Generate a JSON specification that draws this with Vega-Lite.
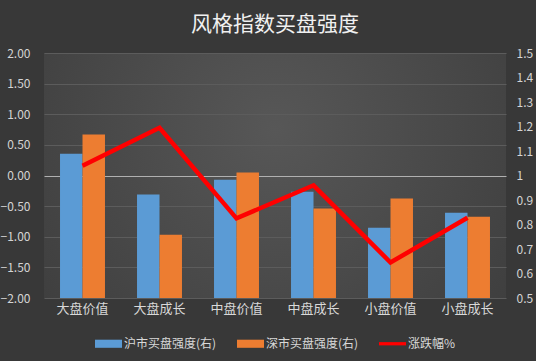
{
  "$schema": "https://vega.github.io/schema/vega-lite/v6.json",
  "width": 462,
  "height": 245,
  "autosize": {"type": "none"},
  "padding": {"left": 44, "top": 53, "right": 30, "bottom": 63},
  "background": "#383838",
  "title": {
    "text": "风格指数买盘强度",
    "font": "Noto Sans CJK SC",
    "fontSize": 21,
    "fontWeight": "normal",
    "color": "#f0f0f0",
    "anchor": "middle",
    "offset": 12
  },
  "datasets": {
    "bars": [
      {"cat": "大盘价值", "series": "沪市买盘强度(右)", "value": 1.089},
      {"cat": "大盘价值", "series": "深市买盘强度(右)", "value": 1.167},
      {"cat": "大盘成长", "series": "沪市买盘强度(右)", "value": 0.922},
      {"cat": "大盘成长", "series": "深市买盘强度(右)", "value": 0.758},
      {"cat": "中盘价值", "series": "沪市买盘强度(右)", "value": 0.983},
      {"cat": "中盘价值", "series": "深市买盘强度(右)", "value": 1.012},
      {"cat": "中盘成长", "series": "沪市买盘强度(右)", "value": 0.934},
      {"cat": "中盘成长", "series": "深市买盘强度(右)", "value": 0.865},
      {"cat": "小盘价值", "series": "沪市买盘强度(右)", "value": 0.787},
      {"cat": "小盘价值", "series": "深市买盘强度(右)", "value": 0.906},
      {"cat": "小盘成长", "series": "沪市买盘强度(右)", "value": 0.848},
      {"cat": "小盘成长", "series": "深市买盘强度(右)", "value": 0.832}
    ],
    "line": [
      {"cat": "大盘价值", "name": "涨跌幅%", "chg": 0.16},
      {"cat": "大盘成长", "name": "涨跌幅%", "chg": 0.78},
      {"cat": "中盘价值", "name": "涨跌幅%", "chg": -0.70},
      {"cat": "中盘成长", "name": "涨跌幅%", "chg": -0.16},
      {"cat": "小盘价值", "name": "涨跌幅%", "chg": -1.42},
      {"cat": "小盘成长", "name": "涨跌幅%", "chg": -0.69}
    ]
  },
  "config": {
    "view": {
      "stroke": null,
      "fill": {
        "gradient": "radial",
        "x1": 0.5, "y1": 0.4, "r1": 0,
        "x2": 0.5, "y2": 0.4, "r2": 0.75,
        "stops": [
          {"offset": 0, "color": "#575757"},
          {"offset": 1, "color": "#3a3a3a"}
        ]
      }
    },
    "legend": {
      "layout": {"bottom": {"anchor": "middle"}}
    },
    "axis": {
      "labelFont": "Noto Sans CJK SC",
      "labelColor": "#d4d4d4",
      "domain": false,
      "ticks": false,
      "title": null
    }
  },
  "layer": [
    {
      "data": {"name": "bars"},
      "mark": {"type": "bar"},
      "encoding": {
        "x": {
          "field": "cat",
          "type": "nominal",
          "sort": null,
          "scale": {"paddingInner": 0.416, "paddingOuter": 0.208},
          "axis": {"labelAngle": 0, "labelFontSize": 13, "labelPadding": 4, "labelColor": "#d9d9d9", "grid": false}
        },
        "xOffset": {"field": "series", "type": "nominal", "sort": null},
        "y": {
          "field": "value",
          "type": "quantitative",
          "scale": {"domain": [0.5, 1.5], "nice": false, "zero": false},
          "axis": {
            "orient": "right",
            "grid": false,
            "values": [0.5, 0.6, 0.7, 0.8, 0.9, 1, 1.1, 1.2, 1.3, 1.4, 1.5],
            "format": "~g",
            "labelFontSize": 12,
            "labelPadding": 10
          }
        },
        "y2": {"datum": 0.5},
        "color": {
          "field": "series",
          "type": "nominal",
          "sort": null,
          "scale": {
            "domain": ["沪市买盘强度(右)", "深市买盘强度(右)", "涨跌幅%"],
            "range": ["#5b9bd5", "#ed7d31", "#ff0000"]
          },
          "legend": {
            "orient": "bottom",
            "direction": "horizontal",
            "title": null,
            "labelFont": "Noto Sans CJK SC",
            "labelFontSize": 12,
            "labelColor": "#d9d9d9",
            "labelOffset": 2,
            "columnPadding": 20,
            "offset": 15,
            "symbolSize": 729,
            "encode": {
              "symbols": {
                "update": {
                  "shape": {"signal": "datum.value === '涨跌幅%' ? 'M-1,-0.12H1V0.12H-1Z' : 'M-1,-0.3H1V0.3H-1Z'"},
                  "fill": {"scale": "color", "field": "value"},
                  "strokeWidth": {"value": 0},
                  "opacity": {"value": 1}
                }
              }
            }
          }
        }
      }
    },
    {
      "data": {"name": "line"},
      "mark": {"type": "line", "strokeWidth": 4.5, "strokeJoin": "miter"},
      "encoding": {
        "x": {"field": "cat", "type": "nominal", "sort": null},
        "y": {
          "field": "chg",
          "type": "quantitative",
          "scale": {"domain": [-2, 2], "nice": false},
          "axis": {
            "orient": "left",
            "grid": true,
            "gridColor": {"expr": "datum.value === 0 ? '#b0b0b0' : '#5c5c5c'"},
            "gridWidth": 1,
            "values": [-2, -1.5, -1, -0.5, 0, 0.5, 1, 1.5, 2],
            "format": ".2f",
            "labelFontSize": 12,
            "labelPadding": 14
          }
        },
        "color": {"field": "name", "type": "nominal"}
      }
    }
  ],
  "resolve": {"scale": {"y": "independent"}}
}
